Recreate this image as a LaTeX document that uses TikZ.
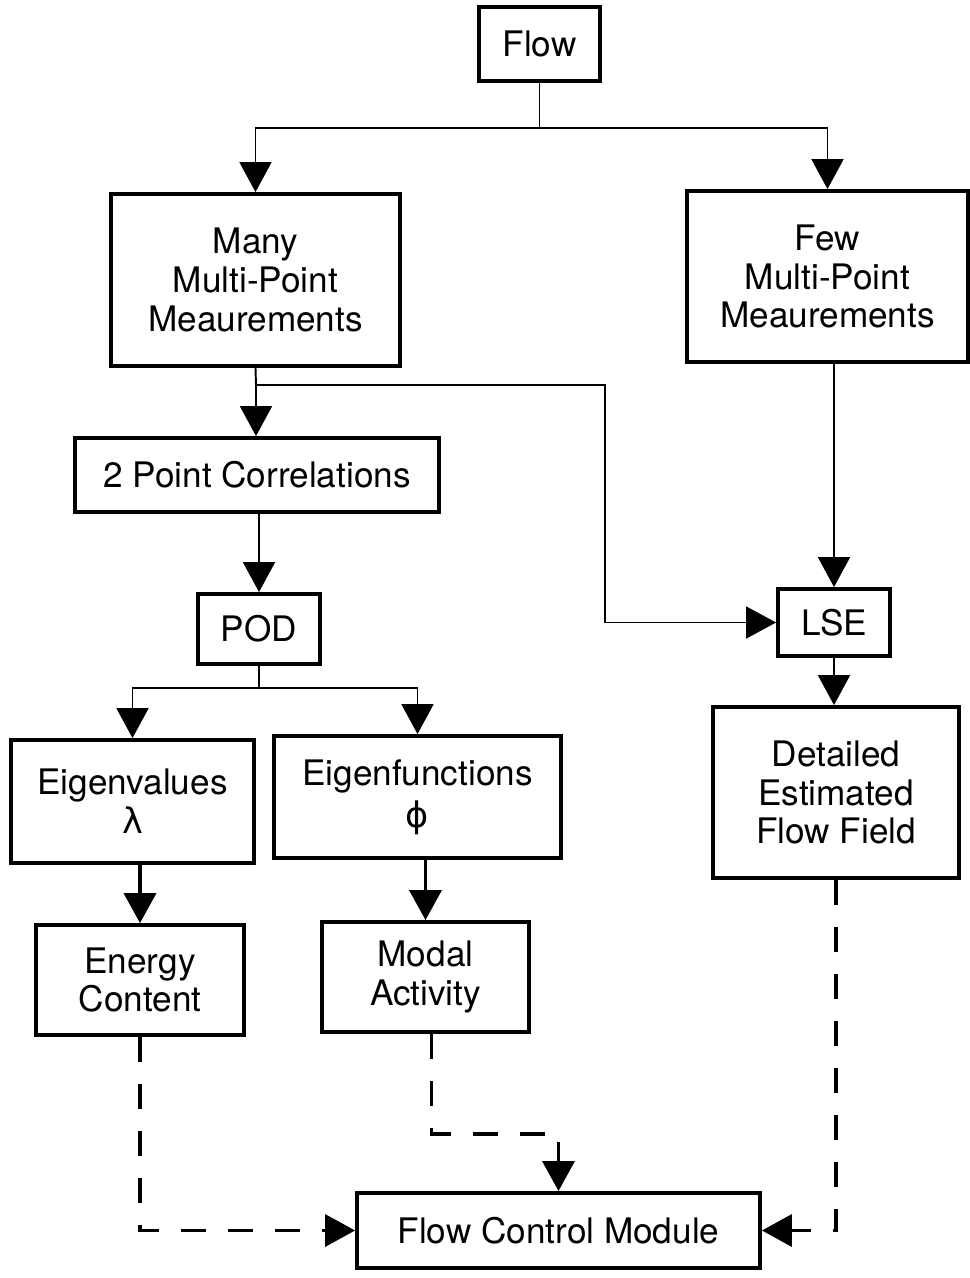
\documentclass[tikz,border=0pt]{standalone}
\usepackage{fontspec}
\setmainfont{TeX Gyre Heros}
\newfontfamily\greekfont{DejaVu Sans}
\usetikzlibrary{arrows.meta,positioning}

\begin{document}
\begin{tikzpicture}[
    every node/.style={font=\fontsize{20}{22}\selectfont},
    box/.style={rectangle, draw, line width=2.2pt, align=center, inner sep=0pt},
    arrow/.style={->, line width=1.1pt, >={Triangle[length=0.6cm, width=0.64cm]}},
    thickarrow/.style={arrow, line width=2.2pt},
    dasharrow/.style={arrow, line width=2pt, dash pattern=on 0.5cm off 0.44cm}
]
\useasboundingbox (0,0) rectangle (19.4,-25.56);

% Row 1: Flow
\node[box, minimum width=2.42cm, minimum height=1.48cm] (flow) at (10.79,-0.88) {Flow};

% Row 2: Measurement sets
\node[box, minimum width=5.78cm, minimum height=3.44cm] (many) at (5.11,-5.60) {
    Many \\
    Multi-Point \\
    Meaurements
};
\node[box, minimum width=5.62cm, minimum height=3.42cm] (few) at (16.55,-5.53) {
    Few \\
    Multi-Point \\
    Meaurements
};

% Row 3: Correlations
\node[box, minimum width=7.28cm, minimum height=1.48cm] (twopt) at (5.14,-9.50) {2 Point Correlations};

% Row 4: POD and LSE
\node[box, minimum width=2.44cm, minimum height=1.40cm] (pod) at (5.18,-12.58) {POD};
\node[box, minimum width=2.24cm, minimum height=1.34cm] (lse) at (16.68,-12.45) {LSE};

% Row 5: POD outputs and estimated field
\node[box, minimum width=4.86cm, minimum height=2.46cm] (eigval) at (2.65,-16.03) {
    Eigenvalues \\
    {\greekfont λ}
};
\node[box, minimum width=5.74cm, minimum height=2.44cm] (eigfun) at (8.35,-15.94) {
    Eigenfunctions \\[2pt]
    {\greekfont ϕ}
};
\node[box, minimum width=4.92cm, minimum height=3.42cm] (detail) at (16.72,-15.85) {
    Detailed \\
    Estimated \\
    Flow Field
};

% Row 6: Energy and modal activity
\node[box, minimum width=4.16cm, minimum height=2.20cm] (energy) at (2.80,-19.60) {
    Energy \\
    Content
};
\node[box, minimum width=4.14cm, minimum height=2.20cm] (modal) at (8.51,-19.54) {
    Modal \\
    Activity
};

% Row 7: Control module
\node[box, minimum width=8.06cm, minimum height=1.50cm] (fcm) at (11.17,-24.61) {Flow Control Module};

% Branch points
\coordinate (split1) at (10.79,-2.56);
\coordinate (split2) at (5.12,-7.70);
\coordinate (bend) at (12.10,-7.70);
\coordinate (split3) at (5.18,-13.76);

% Solid connectors
\draw[line width=1.1pt] (flow.south) -- (split1);
\draw[arrow] (split1) -| (many.north);
\draw[arrow] (split1) -| (few.north);
\draw[line width=1.1pt] (many.south) -- (split2);
\draw[arrow] (split2) -- (split2 |- twopt.north);
\draw[arrow] (split2) -- (bend) |- (lse.west);
\draw[arrow] (twopt.south -| pod.north) -- (pod.north);
\draw[line width=1.1pt] (pod.south) -- (split3);
\draw[arrow] (split3) -| (eigval.north);
\draw[arrow] (split3) -| (eigfun.north);
\draw[thickarrow] (eigval.south -| energy.north) -- (energy.north);
\draw[thickarrow] (eigfun.south -| modal.north) -- (modal.north);
\draw[arrow] (few.south -| lse.north) -- (lse.north);
\draw[arrow] (lse.south) -- (lse.south |- detail.north);

% Dashed feeds into the control module
\draw[dasharrow] (energy.south) |- (fcm.west);
\draw[dasharrow] ([xshift=0.12cm]modal.south) -- ++(0,-2.0) -| (fcm.north);
\draw[dasharrow] (detail.south) |- (fcm.east);

\end{tikzpicture}
\end{document}
